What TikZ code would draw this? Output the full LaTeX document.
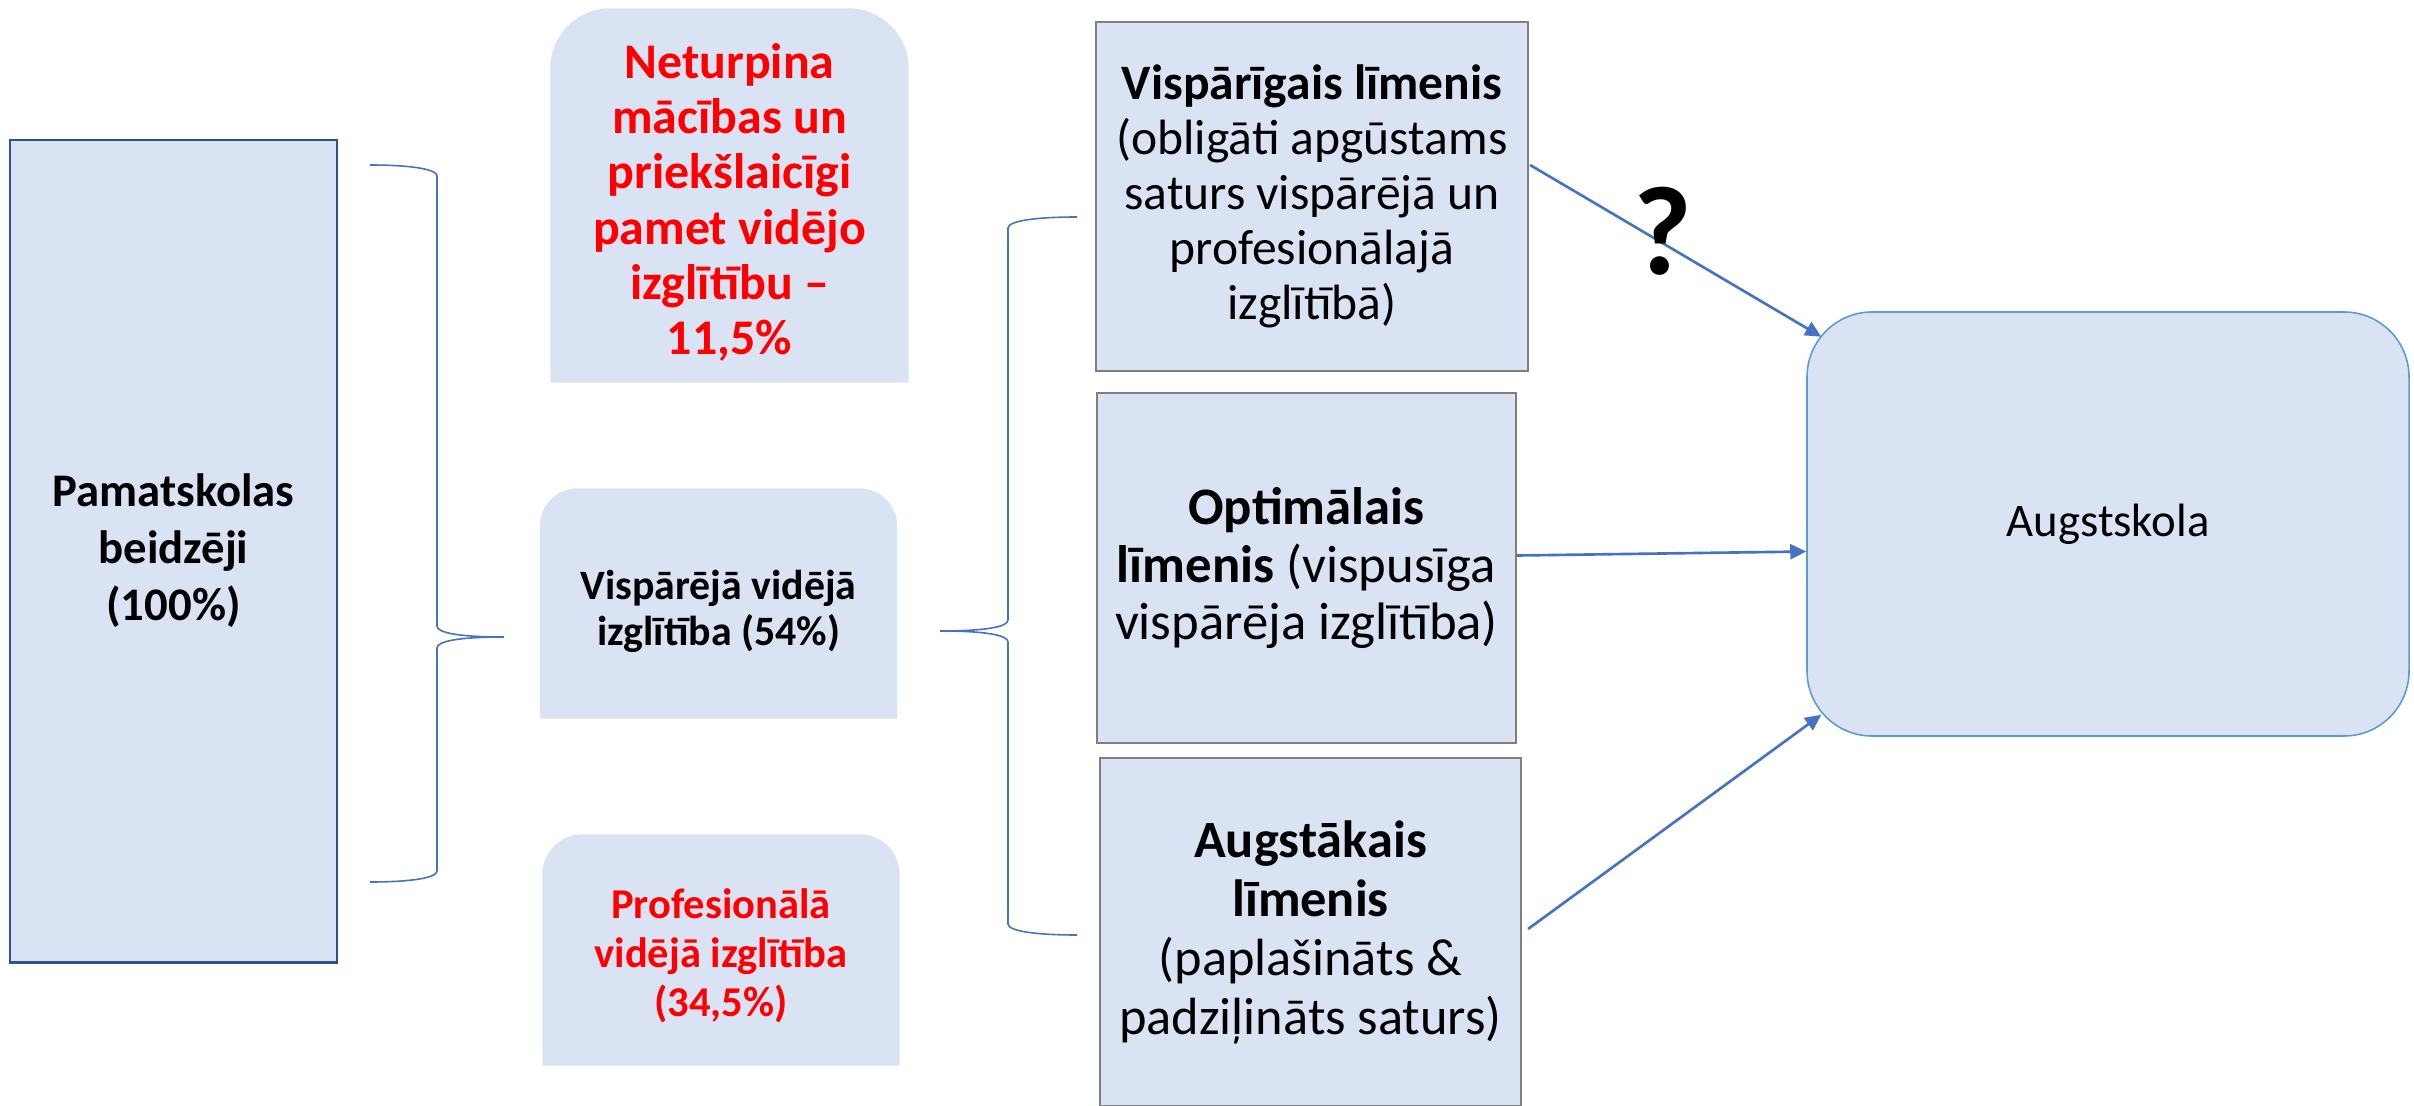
\documentclass[tikz,border=0pt]{standalone}
\usepackage{fontspec}
\setmainfont{Carlito}
\usepackage{tikz}
\usetikzlibrary{arrows.meta,backgrounds,calc}

\definecolor{boxfill}{HTML}{DAE3F3}
\definecolor{darkframe}{HTML}{2F528F}
\definecolor{grayframe}{HTML}{7F7F7F}
\definecolor{lineblue}{HTML}{4472C4}
\definecolor{uniframe}{HTML}{5B9BD5}
\definecolor{alertred}{HTML}{FF0000}

\begin{document}
\begin{tikzpicture}[
    box/.style={fill=boxfill, inner sep=0pt, align=center},
    tbox/.style={inner sep=0pt, align=center},
    level/.style={box, draw=grayframe, line width=0.6pt},
    brace/.style={draw=lineblue, line width=0.45pt},
    arr/.style={draw=lineblue, line width=0.75pt, -{Triangle[length=0.16cm, width=0.15cm]}}
  ]
    \useasboundingbox (0,0) rectangle (24.14,11.05);

    % left column
    \node[box, draw=darkframe, line width=0.85pt, minimum width=3.27cm, minimum height=8.22cm,
      font=\fontsize{13.3}{16.2}\selectfont\bfseries] (grad) at (1.735,5.54)
      {Pamatskolas\\beidzēji\\(100\%)};

    % three ways after school (only the top corners are round)
    \node[tbox, minimum width=3.57cm, minimum height=3.73cm, text=alertred,
      font=\fontsize{14.2}{15.7}\selectfont\bfseries] (drop) at (7.295,9.095)
      {\rule{0pt}{13.9pt}Neturpina\\mācības un\\priekšlaicīgi\\pamet vidējo\\izglītību –\\11,5\%};
    \node[tbox, minimum width=3.56cm, minimum height=2.29cm,
      font=\fontsize{11.9}{12.9}\selectfont\bfseries] (gen) at (7.185,5.015)
      {\rule{0pt}{12.9pt}Vispārējā vidējā\\izglītība (54\%)};
    \node[tbox, minimum width=3.56cm, minimum height=2.30cm, text=alertred,
      font=\fontsize{12.1}{13.9}\selectfont\bfseries] (prof) at (7.21,1.55)
      {\rule{0pt}{11.9pt}Profesionālā\\vidējā izglītība\\(34,5\%)};
    \begin{scope}[on background layer]
      \foreach \n/\r in {drop/0.6,gen/0.38,prof/0.4}
        \fill[boxfill] (\n.south west) -- ([yshift=-\r*1cm]\n.north west)
          arc[start angle=180, end angle=90, radius=\r]
          -- ([xshift=-\r*1cm]\n.north east)
          arc[start angle=90, end angle=0, radius=\r] -- (\n.south east) -- cycle;
    \end{scope}

    % levels
    \node[level, minimum width=4.32cm, minimum height=3.49cm,
      font=\fontsize{14.1}{15.65}\selectfont] (lvlA) at (13.12,9.085)
      {\textbf{Vispārīgais līmenis}\\(obligāti apgūstams\\saturs vispārējā un\\profesionālajā\\izglītībā)};
    \node[level, minimum width=4.19cm, minimum height=3.50cm,
      font=\fontsize{15}{16.5}\selectfont] (lvlB) at (13.065,5.37)
      {\textbf{Optimālais}\\\textbf{līmenis} (vispusīga\\vispārēja izglītība)};
    \node[level, minimum width=4.21cm, minimum height=3.48cm,
      font=\fontsize{14.9}{16.8}\selectfont] (lvlC) at (13.105,1.73)
      {\textbf{Augstākais}\\\textbf{līmenis}\\(paplašināts \&\\padziļināts saturs)};

    \node[box, draw=uniframe, line width=0.45pt, rounded corners=0.65cm, minimum width=6.02cm,
      minimum height=4.24cm, font=\fontsize{13.3}{16}\selectfont] (uni) at (21.08,5.81) {Augstskola};

    % braces
    \draw[brace] (3.70,9.40) .. controls (4.10,9.40) and (4.37,9.36) .. (4.37,9.29)
      -- (4.37,4.79) .. controls (4.37,4.72) and (4.60,4.68) .. (5.04,4.68)
      .. controls (4.60,4.68) and (4.37,4.64) .. (4.37,4.57)
      -- (4.37,2.34) .. controls (4.37,2.27) and (4.10,2.23) .. (3.70,2.23);
    \draw[brace] (10.77,8.88) .. controls (10.35,8.88) and (10.08,8.84) .. (10.08,8.77)
      -- (10.08,4.85) .. controls (10.08,4.78) and (9.85,4.74) .. (9.40,4.74)
      .. controls (9.85,4.74) and (10.08,4.70) .. (10.08,4.63)
      -- (10.08,1.81) .. controls (10.08,1.74) and (10.35,1.70) .. (10.77,1.70);

    % arrows
    \draw[arr] ($(lvlA.east)+(0.01,0.315)$) -- ($(uni.north west)+(0.15,-0.255)$);
    \draw[arr] ($(lvlB.east)+(0,0.125)$) -- ($(uni.west)+(0,-0.275)$);
    \draw[arr] ($(lvlC.east)+(0.06,0.03)$) -- ($(uni.south west)+(0.15,0.22)$);

    \node[font=\fontsize{36}{40}\selectfont\bfseries] (qmark) at (16.63,8.74) {?};
  \end{tikzpicture}
\end{document}
